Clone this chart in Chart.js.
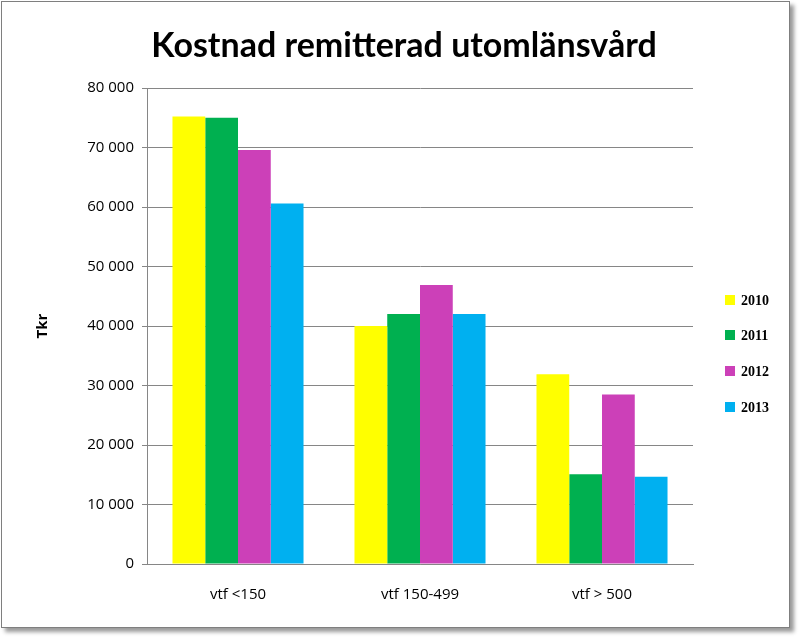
<!DOCTYPE html>
<html><head><meta charset="utf-8">
<script src="https://cdn.jsdelivr.net/npm/chart.js@4/dist/chart.umd.min.js"></script>
<style>
html,body{margin:0;padding:0;background:#fff;}
#frame{position:absolute;left:1px;top:1px;width:787px;height:625px;border:1px solid #7f7f7f;box-shadow:4px 4px 4px #9a9a9a;}
#wrap{position:absolute;left:0;top:0;width:803px;height:642px;}
</style></head><body>
<div id="frame"></div>
<div id="wrap"><canvas id="c" width="803" height="642"></canvas></div>
<script>
const categories = ["vtf <150", "vtf 150-499", "vtf > 500"];
const years = ["2010", "2011", "2012", "2013"];
const v2010 = [75200, 40000, 31900];
const v2011 = [75000, 42000, 15100];
const v2012 = [69600, 46900, 28500];
const v2013 = [60600, 42000, 14650];
const colors = ["#ffff00", "#00b050", "#cc40b8", "#00b0f0"];
const titleText = "Kostnad remitterad utomlänsvård";
const yTitle = "Tkr";

const fmt = v => String(v).replace(/\B(?=(\d{3})+(?!\d))/g, " ");

const drawExtras = {
  id: 'extras',
  afterDraw(chart) {
    const ctx = chart.ctx;
    ctx.save();
    ctx.fillStyle = '#000';
    ctx.font = 'bold 34px Lato, sans-serif';
    ctx.textAlign = 'center'; ctx.textBaseline = 'middle';
    ctx.fillText(titleText, 404, 46);
    ctx.font = 'bold 14px "Liberation Serif", serif';
    ctx.textAlign = 'left';
    const ys = [300, 335, 371, 407];
    chart.data.datasets.forEach((d, i) => {
      ctx.fillStyle = d.backgroundColor;
      ctx.fillRect(725, ys[i] - 5, 10, 10);
      ctx.fillStyle = '#000';
      ctx.fillText(d.label, 741, ys[i] + 1);
    });
    ctx.restore();
  }
};

const series = [v2010, v2011, v2012, v2013];
new Chart(document.getElementById('c'), {
  type: 'bar',
  data: {
    labels: categories,
    datasets: series.map((s, i) => ({ label: years[i], data: s, backgroundColor: colors[i] }))
  },
  options: {
    responsive: false, animation: false,
    layout: { padding: { top: 88, right: 110, bottom: 16, left: 30 } },
    plugins: { legend: { display: false }, title: { display: false }, tooltip: { enabled: false } },
    datasets: { bar: { categoryPercentage: 0.72, barPercentage: 1 } },
    scales: {
      x: {
        grid: { display: false, drawTicks: false },
        border: { color: '#868686' },
        ticks: { color: '#000', font: { size: 15, family: '"Open Sans", sans-serif' }, padding: 22 }
      },
      y: {
        min: 0, max: 80000,
        ticks: { stepSize: 10000, color: '#000', font: { size: 15, family: '"Open Sans", sans-serif' }, padding: 8, callback: v => fmt(v) },
        grid: { color: '#868686', drawTicks: true, tickLength: 5 },
        border: { color: '#868686' },
        title: { display: true, text: yTitle, color: '#000', font: { size: 15, weight: 'bold', family: '"Open Sans", sans-serif' } },
        afterFit: s => { s.width = 117; }
      }
    }
  },
  plugins: [drawExtras]
});
</script>
</body></html>
